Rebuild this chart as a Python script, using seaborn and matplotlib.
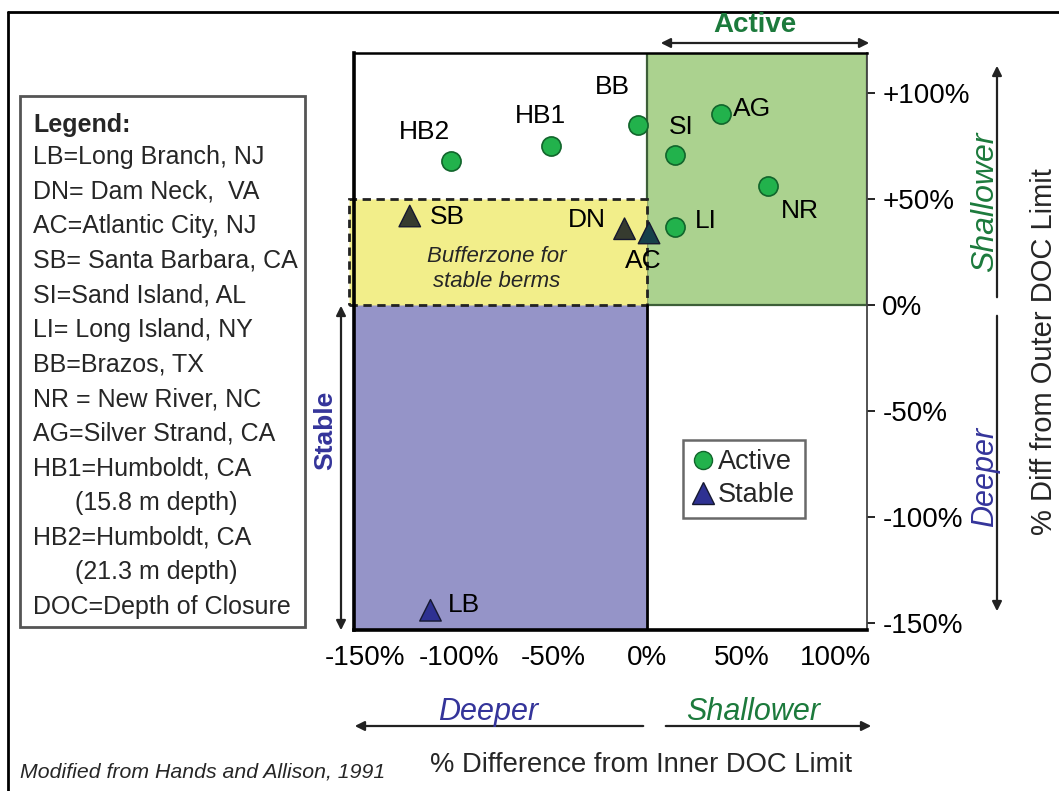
import numpy as np
import pandas as pd
import matplotlib
matplotlib.use("Agg")
import matplotlib.pyplot as plt
import seaborn as sns
from matplotlib.patches import Rectangle
from matplotlib.lines import Line2D

# ---------------- data ----------------
sites = ["HB2", "HB1", "BB", "SI", "AG", "NR", "LI", "SB", "DN", "AC", "LB"]
inner_diff = [-104, -51, -5, 15, 39, 64, 15, -126, -12, 1, -115]   # % diff from inner DOC limit
outer_diff = [68, 75, 85, 71, 90, 56, 37, 42, 36, 34, -144]          # % diff from outer DOC limit
berm_type = ["Active"] * 7 + ["Stable"] * 4

x_ticks = [-150, -100, -50, 0, 50, 100]
x_tick_labels = ["-150%", "-100%", "-50%", "0%", "50%", "100%"]
y_ticks = [-150, -100, -50, 0, 50, 100]
y_tick_labels = ["-150%", "-100%", "-50%", "0%", "+50%", "+100%"]

buffer_top = 50

legend_title = "Legend:"
legend_lines = ["LB=Long Branch, NJ", "DN= Dam Neck,  VA", "AC=Atlantic City, NJ",
                "SB= Santa Barbara, CA", "SI=Sand Island, AL", "LI= Long Island, NY",
                "BB=Brazos, TX", "NR = New River, NC", "AG=Silver Strand, CA",
                "HB1=Humboldt, CA", "      (15.8 m depth)", "HB2=Humboldt, CA",
                "      (21.3 m depth)", "DOC=Depth of Closure"]

# label offsets (points)
label_offsets = {"HB2": (-19, 21), "HB1": (-8, 22), "BB": (-18, 27), "SI": (4, 20),
                 "AG": (23, 4), "NR": (23, -18), "LI": (22, 4), "SB": (27, -1),
                 "DN": (-27, 6), "AC": (-4, -20), "LB": (24, 4)}

# ---------------- style ----------------
sns.set_style("white")
plt.rcParams['font.family'] = ['Liberation Sans', 'DejaVu Sans']

W, H = 1059, 791
fig = plt.figure(figsize=(W / 100, H / 100), dpi=100)


def fx(px):
    return px / W


def fy(py):
    return 1 - py / H


ax_l, ax_r, ax_t, ax_b = 354, 867, 53, 630
ax = fig.add_axes([fx(ax_l), fy(ax_b), fx(ax_r - ax_l), (ax_b - ax_t) / H])

xmin, xmax = -155.6, 116.7
ymin, ymax = -153.3, 118.9
ax.set_xlim(xmin, xmax)
ax.set_ylim(ymin, ymax)

GREEN_ZONE = "#abd28f"
PURPLE_ZONE = "#9594c8"
YELLOW_ZONE = "#f2ee8a"

ax.add_patch(Rectangle((0, 0), xmax, ymax, facecolor=GREEN_ZONE, edgecolor="#3d5f38",
                       lw=1.6, zorder=0))
ax.add_patch(Rectangle((xmin, ymin), -xmin, -ymin, facecolor=PURPLE_ZONE,
                       edgecolor="none", zorder=0))
ax.add_patch(Rectangle((xmin - 2.5, 0), -xmin + 2.5, buffer_top, facecolor=YELLOW_ZONE,
                       edgecolor="#222222", lw=2, ls=(0, (3, 2)), zorder=1, clip_on=False))
ax.plot([0, 0], [ymin, 0], color="black", lw=2, zorder=1)

df = pd.DataFrame({"site": sites, "x": inner_diff, "y": outer_diff, "type": berm_type})


def zone(r):
    if r.x < 0 and 0 <= r.y <= buffer_top:
        return "buffer"
    if r.x >= 0 and r.y >= 0:
        return "active"
    return "plain"


df["zone"] = df.apply(zone, axis=1)

act = df[df["type"] == "Active"]
stb = df[df["type"] == "Stable"]

sns.scatterplot(data=act, x="x", y="y", marker="o", s=190, color="#22b24c",
                edgecolor="#11652b", linewidth=1.2, ax=ax, zorder=5, legend=False)
sns.scatterplot(data=stb, x="x", y="y", hue="zone", marker="^", s=240,
                palette={"buffer": "#363b2f", "active": "#17404a", "plain": "#2e3192"},
                edgecolor="#151830", linewidth=1.0, ax=ax, zorder=5, legend=False)

for _, r in df.iterrows():
    dx, dy = label_offsets[r.site]
    ax.annotate(r.site, (r.x, r.y), xytext=(dx, dy), textcoords="offset points",
                ha="center", va="center", fontsize=19, color="black", zorder=6)

ax.text(-80, 17, "Bufferzone for\nstable berms", ha="center", va="center",
        fontsize=16, style="italic", linespacing=1.25, zorder=6)

# axes styling
ax.set_xticks(x_ticks)
ax.set_xticklabels(x_tick_labels)
ax.set_yticks(y_ticks)
ax.set_yticklabels(y_tick_labels)
ax.yaxis.tick_right()
ax.tick_params(axis="both", direction="out", length=6, width=1.2, labelsize=20,
               colors="black", pad=3)
ax.tick_params(axis="y", pad=5)
ax.tick_params(axis="x", pad=5)
ax.set_xlabel("")
ax.set_ylabel("")
for s in ["bottom", "left"]:
    ax.spines[s].set_linewidth(2.6)
    ax.spines[s].set_color("black")
ax.spines["top"].set_linewidth(1.8)
ax.spines["top"].set_color("black")
ax.spines["right"].set_linewidth(1.3)
ax.spines["right"].set_color("#444444")
ax.grid(False)

# in-plot legend
handles = [Line2D([], [], marker="o", ls="none", markersize=13, markerfacecolor="#22b24c",
                  markeredgecolor="#11652b"),
           Line2D([], [], marker="^", ls="none", markersize=16, markerfacecolor="#2e3192",
                  markeredgecolor="#151830")]
leg = ax.legend(handles, ["Active", "Stable"], loc="upper left",
                bbox_to_anchor=(fx(683), fy(440)), bbox_transform=fig.transFigure,
                frameon=True, fancybox=False, edgecolor="#444444", fontsize=19.5,
                handlelength=0.8, handletextpad=0.15, borderpad=0.35, labelspacing=0.25,
                borderaxespad=0)
leg.get_frame().set_linewidth(1.8)

# ---------------- figure annotations ----------------
# outer frame
fig.add_artist(Line2D([fx(8), fx(W + 5)], [fy(12), fy(12)], color="black", lw=2))
fig.add_artist(Line2D([fx(8), fx(8)], [fy(12), fy(H + 5)], color="black", lw=2))

# legend text box
fig.add_artist(Rectangle((fx(20), fy(627)), fx(305 - 20), (627 - 96) / H, transform=fig.transFigure,
                         facecolor="white", edgecolor="#555555", lw=2))
fig.text(fx(33), fy(125), legend_title, fontsize=18, fontweight="bold", va="center", ha="left")
for i, line in enumerate(legend_lines):
    fig.text(fx(33), fy(157 + i * 34.6), line, fontsize=18, va="center", ha="left")


def farrow(x0, y0, x1, y1, style="->"):
    fig.add_artist(matplotlib.patches.FancyArrowPatch(
        (fx(x0), fy(y0)), (fx(x1), fy(y1)), transform=fig.transFigure,
        arrowstyle=style, mutation_scale=14, lw=1.6, color="#222222"))


GREEN_TXT = "#1c7a3c"
BLUE_TXT = "#34349a"

fig.text(fx(755), fy(25), "Active", fontsize=20, fontweight="bold", color=GREEN_TXT,
         ha="center", va="center")
farrow(658, 43, 872, 43, "<|-|>")

fig.text(fx(985), fy(202), "Shallower", fontsize=23, style="italic", color=GREEN_TXT,
         rotation=90, ha="center", va="center")
fig.text(fx(985), fy(477), "Deeper", fontsize=22, style="italic", color=BLUE_TXT,
         rotation=90, ha="center", va="center")
farrow(997, 300, 997, 63, "-|>")
farrow(997, 313, 997, 614, "-|>")
fig.text(fx(1030), fy(352), "% Diff from Outer DOC Limit", fontsize=21, rotation=90,
         ha="left", va="center")

fig.text(fx(325), fy(430), "Stable", fontsize=19, fontweight="bold", color=BLUE_TXT,
         rotation=90, ha="center", va="center")
farrow(341, 303, 341, 633, "<|-|>")

fig.text(fx(488), fy(712), "Deeper", fontsize=22, style="italic", color=BLUE_TXT,
         ha="center", va="center")
fig.text(fx(753), fy(712), "Shallower", fontsize=22, style="italic", color=GREEN_TXT,
         ha="center", va="center")
farrow(646, 726, 352, 726, "-|>")
farrow(663, 726, 874, 726, "-|>")

fig.text(fx(641), fy(765), "% Difference from Inner DOC Limit", fontsize=19.7,
         ha="center", va="center")
fig.text(fx(20), fy(772), "Modified from Hands and Allison, 1991", fontsize=15.3,
         style="italic", ha="left", va="center")

fig.savefig("out.png", dpi=100)
